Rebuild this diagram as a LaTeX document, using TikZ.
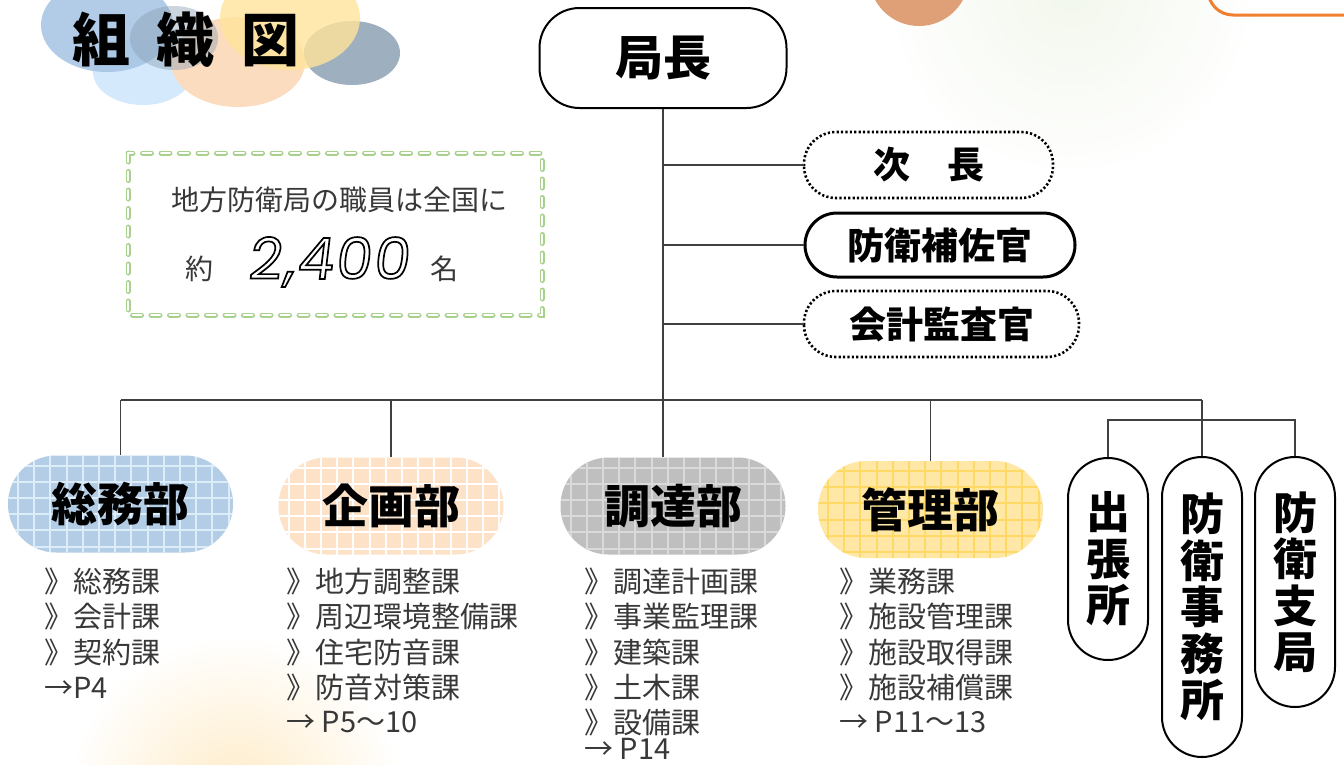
\documentclass[tikz,border=0pt]{standalone}
\usepackage{fontspec}
\setmainfont{Noto Sans CJK JP}
\newfontfamily\numfont{Poppins}[FakeSlant=0.12,LetterSpace=4]
\definecolor{linegray}{HTML}{404040}
\definecolor{listgray}{HTML}{383838}
\definecolor{genfill}{HTML}{B4CDE6}
\definecolor{gengrid}{HTML}{DDECF9}
\definecolor{planfill}{HTML}{FDE2C8}
\definecolor{plangrid}{HTML}{FFFFFF}
\definecolor{procfill}{HTML}{BFBFBF}
\definecolor{procgrid}{HTML}{DADADA}
\definecolor{mgmtfill}{HTML}{FFE8A6}
\definecolor{mgmtgrid}{HTML}{FFD966}
\definecolor{boxgreen}{HTML}{A9D18E}
\definecolor{bblue}{HTML}{A4C3E3}
\definecolor{bsky}{HTML}{D4E9FB}
\definecolor{bpeach}{HTML}{FBDCBF}
\definecolor{byellow}{HTML}{FFE49A}
\definecolor{bslate}{HTML}{8DA2B4}
\definecolor{ballorange}{HTML}{DFA077}
\definecolor{frameorange}{HTML}{F07F2E}

% hollow (stroked only) glyphs
\newcommand\hollow[1]{\special{pdf:literal direct 1 Tr 1.7 w}#1\special{pdf:literal direct 0 Tr}}

% square grid laid over a filled department label
\newcommand\deptgrid[1]{%
  \foreach \k in {0,...,14}{\draw[#1,line width=2pt]
    ([xshift=10pt+\k*16.2pt]path picture bounding box.north west) --
    ([xshift=10pt+\k*16.2pt]path picture bounding box.south west);}%
  \foreach \k in {0,...,6}{\draw[#1,line width=2pt]
    ([yshift=-10pt-\k*16.2pt]path picture bounding box.north west) --
    ([yshift=-10pt-\k*16.2pt]path picture bounding box.north east);}}

\tikzset{
  conn/.style={draw=linegray, line width=1.4pt},
  chiefbox/.style={draw=black, line width=2pt, rounded corners=40pt, inner sep=0pt,
    minimum width=247pt, minimum height=100pt, font=\fontsize{48}{50}\selectfont\bfseries},
  sidebox/.style={draw=black, line width=2pt, rounded corners=32pt, inner sep=0pt,
    minimum height=64pt, font=\fontsize{37}{40}\selectfont\bfseries},
  dotline/.style={line width=2.6pt, dash pattern=on 2.2pt off 2.2pt},
  dept/.style 2 args={fill=#1, rounded corners=48pt, minimum width=225pt,
    minimum height=97pt, inner sep=0pt, font=\fontsize{46}{50}\selectfont\bfseries,
    path picture={\deptgrid{#2}}},
  vbox/.style={draw=black, line width=2pt, rounded corners=40pt, minimum width=80pt,
    inner sep=0pt, align=center, font=\fontsize{44}{46.5}\selectfont\bfseries},
  subunit/.style={font=\fontsize{29}{35}\selectfont, text=listgray, anchor=west, inner sep=0pt},
  notetext/.style={font=\fontsize{28}{32}\selectfont, text=listgray, inner sep=0pt},
}

\begin{document}
\begin{tikzpicture}[x=1pt,y=-1pt]
\useasboundingbox (0,0) rectangle (1344,764);

% soft background glows
\shade[inner color={rgb,255:red,242;green,247;blue,236}, outer color=white, draw=none]
  (1070,-10) circle (190);
\shade[inner color={rgb,255:red,254;green,234;blue,196}, outer color=white, draw=none]
  (235,805) circle (170);

% top decorations
\fill[ballorange] (919,-24) circle (50);
\draw[frameorange, line width=3pt, rounded corners=25pt] (1208,-60) rectangle (1420,15);

% bubbles behind the title
\fill[bsky] (143,72) ellipse [x radius=50, y radius=33];
\fill[bpeach] (238,62) ellipse [x radius=67, y radius=45];
\fill[bblue, fill opacity=0.85] (107,25) ellipse [x radius=66, y radius=47];
\fill[bslate, fill opacity=0.45] (174,38) ellipse [x radius=44, y radius=32];
\fill[bslate, fill opacity=0.85] (352,53) ellipse [x radius=48, y radius=32];
\fill[byellow, fill opacity=0.8] (290,18) ellipse [x radius=70, y radius=52];

\node[inner sep=0pt] (title) at (186,40)
  {\fontsize{58}{60}\selectfont\bfseries 組\hspace{27pt}織\hspace{27pt}図};

% staff count note
\draw[boxgreen, line width=1.5pt, double=white, double distance=2pt,
      line cap=round, dash pattern=on 9pt off 9.5pt] (128,153) rectangle (542,315);
\node[notetext] (note1) at (339,200) {地方防衛局の職員は全国に};
\node[notetext] (note2) at (199,269) {約};
\node[inner sep=0pt] (count) at (328,262)
  {\numfont\fontsize{57}{60}\selectfont\hollow{2,400}};
\node[notetext] (note3) at (444,269) {名};

% chief and staff officers
\node[chiefbox] (chief) at (663,58) {局長};
\node[sidebox, draw=none, minimum width=247pt] (vice) at (928.5,165) {次　長};
\node[sidebox, line width=3pt, minimum width=270pt] (aide) at (940,245) {防衛補佐官};
\node[sidebox, draw=none, minimum width=273pt] (audit) at (941.5,324) {会計監査官};
\draw[dotline, rounded corners=32pt] (vice.south west) rectangle (vice.north east);
\draw[dotline, rounded corners=32pt] (audit.south west) rectangle (audit.north east);

% departments
\node[dept={genfill}{gengrid}] (gen) at (120.5,504) {総務部};
\node[dept={planfill}{plangrid}] (plan) at (391,506) {企画部};
\node[dept={procfill}{procgrid}] (proc) at (673,506) {調達部};
\node[dept={mgmtfill}{mgmtgrid}] (mgmt) at (930.5,509.5) {管理部};

% regional offices
\node[vbox, minimum height=202pt] (branch) at (1108,559) {出\\張\\所};
\node[vbox, minimum height=300pt] (office) at (1202,607) {防\\衛\\事\\務\\所};
\node[vbox, minimum height=250pt] (bureau) at (1295,582) {防\\衛\\支\\局};

% connectors
\coordinate (bus) at (0,400);
\coordinate (subbus) at (0,420);
\draw[conn] (chief.south) -- (chief.south |- proc.north);
\draw[conn] (chief.south |- vice.west) -- (vice.west);
\draw[conn] (chief.south |- aide.west) -- (aide.west);
\draw[conn] (chief.south |- audit.west) -- (audit.west);
\draw[conn] (gen.north |- bus) -- (office.north |- bus);
\draw[conn] (gen.north |- bus) -- (gen.north);
\draw[conn] (plan.north |- bus) -- (plan.north);
\draw[conn] (mgmt.north |- bus) -- (mgmt.north);
\draw[conn] (office.north |- bus) -- (office.north);
\draw[conn] (branch.north) -- (branch.north |- subbus) -- (bureau.north |- subbus) -- (bureau.north);

% sections under each department
\node[subunit] (g1) at (44,581) {》総務課};
\node[subunit] (g2) at (44,616.5) {》会計課};
\node[subunit] (g3) at (44,652) {》契約課};
\node[subunit] (g4) at (44,687.5) {→P4};

\node[subunit] (p1) at (286,581) {》地方調整課};
\node[subunit] (p2) at (286,616.5) {》周辺環境整備課};
\node[subunit] (p3) at (286,652) {》住宅防音課};
\node[subunit] (p4) at (286,687.5) {》防音対策課};
\node[subunit] (p5) at (286,722) {→ P5〜10};

\node[subunit] (c1) at (584,581) {》調達計画課};
\node[subunit] (c2) at (584,616.5) {》事業監理課};
\node[subunit] (c3) at (584,652) {》建築課};
\node[subunit] (c4) at (584,687.5) {》土木課};
\node[subunit] (c5) at (584,722) {》設備課};
\node[subunit] (c6) at (584,749) {→ P14};

\node[subunit] (m1) at (839,581) {》業務課};
\node[subunit] (m2) at (839,616.5) {》施設管理課};
\node[subunit] (m3) at (839,652) {》施設取得課};
\node[subunit] (m4) at (839,687.5) {》施設補償課};
\node[subunit] (m5) at (839,722) {→ P11〜13};
\end{tikzpicture}
\end{document}
